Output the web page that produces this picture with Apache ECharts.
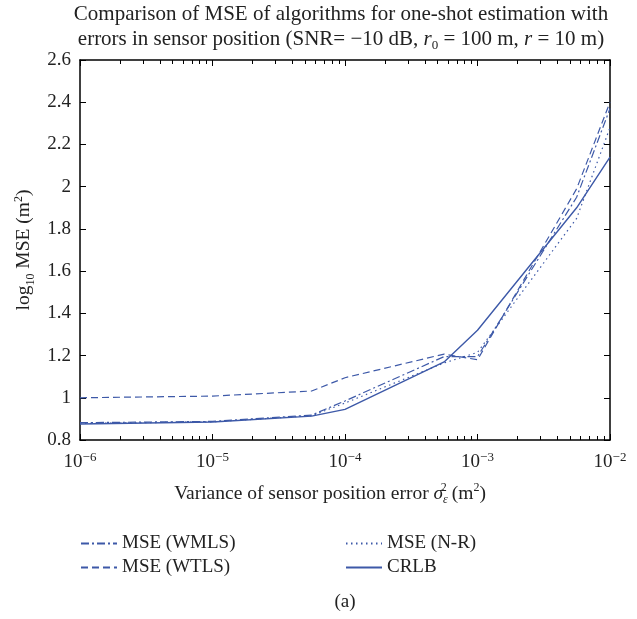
<!DOCTYPE html>
<html>
<head>
<meta charset="utf-8">
<script src="https://cdn.jsdelivr.net/npm/echarts@6/dist/echarts.min.js"></script>
<style>
html,body{margin:0;padding:0;background:#fff;}
#chart{width:637px;height:619px;}
</style>
</head>
<body>
<div id="chart"></div>
<script>
// Data (x: variance of sensor position error, y: log10 MSE)
const xValues = [1e-6, 1e-5, 5.6e-5, 1e-4, 5.6e-4, 1e-3, 5.6e-3, 1e-2];
const wmls = [0.882, 0.888, 0.918, 0.985, 1.195, 1.195, 1.95, 2.37];
const wtls = [1.000, 1.008, 1.032, 1.095, 1.207, 1.180, 1.99, 2.40];
const nr   = [0.878, 0.886, 0.915, 0.975, 1.165, 1.215, 1.85, 2.28];
const crlb = [0.876, 0.885, 0.913, 0.945, 1.170, 1.320, 1.90, 2.14];
const xTickExponents = ['−6', '−5', '−4', '−3', '−2'];
const yTicks = [0.8, 1, 1.2, 1.4, 1.6, 1.8, 2, 2.2, 2.4, 2.6];

const FONT = '"Liberation Serif", "DejaVu Serif", serif';
const BLUE = '#3d59a8';
const TXT = '#222';

function pairs(ys) { return xValues.map((x, i) => [x, ys[i]]); }

const chart = echarts.init(document.getElementById('chart'));

const xAxisBase = {
  type: 'log',
  logBase: 10,
  min: 1e-6,
  max: 1e-2,
  axisLine: { show: true, lineStyle: { color: '#000', width: 1.5 } },
  axisTick: { show: true, inside: true, length: 6, lineStyle: { color: '#000', width: 1 } },
  minorTick: { show: true, splitNumber: 9, length: 4, lineStyle: { color: '#000', width: 1 } },
  splitLine: { show: false },
  minorSplitLine: { show: false }
};
const yAxisBase = {
  type: 'value',
  min: 0.8,
  max: 2.6,
  interval: 0.2,
  axisLine: { show: true, lineStyle: { color: '#000', width: 1.5 } },
  axisTick: { show: true, inside: true, length: 6, lineStyle: { color: '#000', width: 1 } },
  splitLine: { show: false }
};

chart.setOption({
  backgroundColor: '#fff',
  animation: false,
  title: {
    text: 'Comparison of MSE of algorithms for one-shot estimation with\nerrors in sensor position (SNR= −10 dB, {i|r}{sub|0} = 100 m, {i|r} = 10 m)',
    left: 336,
    top: -3,
    textAlign: 'center',
    textStyle: {
      fontFamily: FONT, fontSize: 21, fontWeight: 'normal', color: TXT, lineHeight: 25,
      rich: {
        i: { fontFamily: FONT, fontSize: 21, fontStyle: 'italic', color: TXT, lineHeight: 25 },
        sub: { fontFamily: FONT, fontSize: 13, color: TXT, verticalAlign: 'bottom', lineHeight: 21 }
      }
    }
  },
  grid: { left: 80, right: 27, top: 60, bottom: 179 },
  xAxis: [
    Object.assign({}, xAxisBase, {
      position: 'bottom',
      name: 'Variance of sensor position error {i|σ}{sub|ε}{supx|2} (m{sup|2})',
      nameLocation: 'middle',
      nameGap: 42,
      nameTextStyle: {
        fontFamily: FONT, fontSize: 19.5, color: TXT, padding: [0, 30, 0, 0], lineHeight: 24,
        rich: {
          i: { fontFamily: FONT, fontSize: 19.5, fontStyle: 'italic', color: TXT, lineHeight: 24 },
          sub: { fontFamily: FONT, fontSize: 12, fontStyle: 'italic', color: TXT, verticalAlign: 'bottom', lineHeight: 18 },
          supx: { fontFamily: FONT, fontSize: 12, color: TXT, verticalAlign: 'top', lineHeight: 18, padding: [0, 0, 0, -7] },
          sup: { fontFamily: FONT, fontSize: 12, color: TXT, verticalAlign: 'top', lineHeight: 18 }
        }
      },
      axisLabel: {
        margin: 11,
        formatter: function (v) {
          const e = Math.round(Math.log10(v));
          const idx = e + 6;
          return '10{sup|' + xTickExponents[idx] + '}';
        },
        fontFamily: FONT, fontSize: 19, color: TXT, lineHeight: 22,
        rich: { sup: { fontFamily: FONT, fontSize: 13, color: TXT, verticalAlign: 'top', lineHeight: 16 } }
      }
    }),
    Object.assign({}, xAxisBase, { position: 'top', axisLabel: { show: false } })
  ],
  yAxis: [
    Object.assign({}, yAxisBase, {
      position: 'left',
      name: 'log{sub|10} MSE (m{sup|2})',
      nameLocation: 'middle',
      nameRotate: 90,
      nameGap: 42,
      nameTextStyle: {
        fontFamily: FONT, fontSize: 19.5, color: TXT, lineHeight: 24,
        rich: {
          sub: { fontFamily: FONT, fontSize: 12, color: TXT, verticalAlign: 'bottom', lineHeight: 18 },
          sup: { fontFamily: FONT, fontSize: 12, color: TXT, verticalAlign: 'top', lineHeight: 18 }
        }
      },
      axisLabel: {
        margin: 9,
        fontFamily: FONT, fontSize: 19, color: TXT,
        formatter: function (v) {
          const t = yTicks.find(k => Math.abs(k - v) < 1e-6);
          return t === undefined ? '' : String(t);
        }
      }
    }),
    Object.assign({}, yAxisBase, { position: 'right', axisLabel: { show: false } })
  ],
  legend: [
    {
      orient: 'vertical', left: 75, top: 529, itemWidth: 36, itemHeight: 12, itemGap: 5,
      itemStyle: { opacity: 0 },
      data: ['MSE (WMLS)', 'MSE (WTLS)'],
      textStyle: { fontFamily: FONT, fontSize: 19, color: TXT }
    },
    {
      orient: 'vertical', left: 340, top: 529, itemWidth: 36, itemHeight: 12, itemGap: 5,
      itemStyle: { opacity: 0 },
      data: ['MSE (N-R)', 'CRLB'],
      textStyle: { fontFamily: FONT, fontSize: 19, color: TXT }
    }
  ],
  graphic: [
    { type: 'text', x: 345, y: 602, style: { text: '(a)', font: '19px ' + FONT, fill: TXT, align: 'center', verticalAlign: 'middle' } }
  ],
  series: [
    { name: 'MSE (WMLS)', type: 'line', data: pairs(wmls), symbol: 'none', lineStyle: { color: BLUE, width: 1.2, type: [8, 3, 2, 3] }, itemStyle: { color: BLUE } },
    { name: 'MSE (WTLS)', type: 'line', data: pairs(wtls), symbol: 'none', lineStyle: { color: BLUE, width: 1.2, type: [7, 4] }, itemStyle: { color: BLUE } },
    { name: 'MSE (N-R)', type: 'line', data: pairs(nr), symbol: 'none', lineStyle: { color: BLUE, width: 1.2, type: [1.5, 3.5] }, itemStyle: { color: BLUE } },
    { name: 'CRLB', type: 'line', data: pairs(crlb), symbol: 'none', lineStyle: { color: BLUE, width: 1.4, type: 'solid' }, itemStyle: { color: BLUE } }
  ]
});
</script>
</body>
</html>
